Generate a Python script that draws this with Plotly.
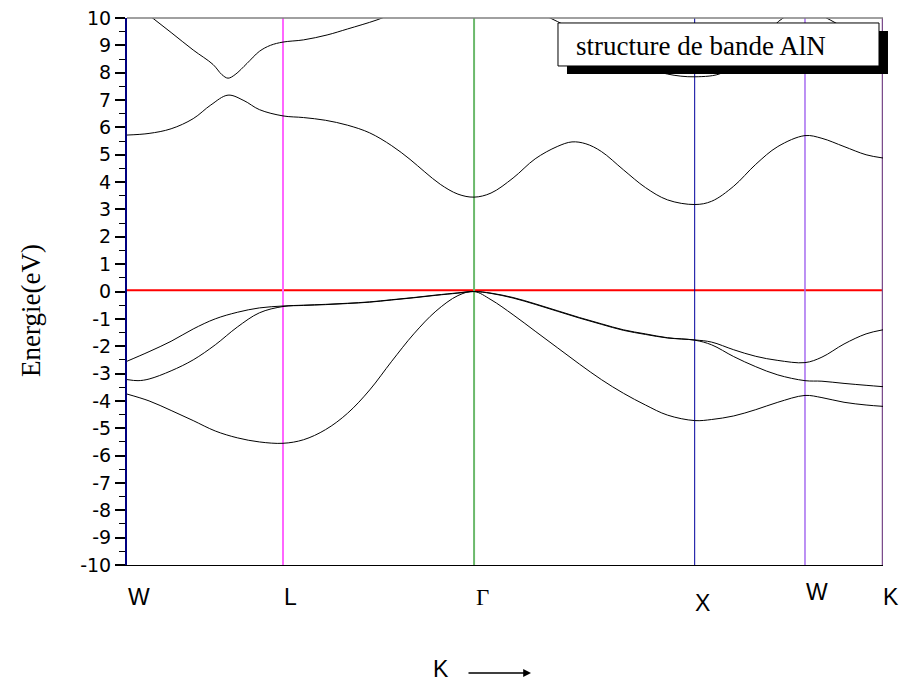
import plotly.graph_objects as go

# High-symmetry points along the path (distance in 2*pi/a units)
kpt_names = ["W", "L", "Γ", "X", "W", "K"]
kpt_pos = [0.0, 0.7071, 1.5731, 2.5731, 3.0731, 3.4267]
kpt_colors = ["#000080", "#ff66ff", "#6cb96c", "#00009c", "#a66cf0", "#7b4c8c"]

# Valence bands
v1_k = [0.0, 0.1, 0.2, 0.3, 0.4, 0.5, 0.6, 0.7071,
        0.8, 0.9, 1.0, 1.1, 1.2, 1.3, 1.4, 1.5, 1.5731,
        1.65, 1.75, 1.85, 1.95, 2.05, 2.15, 2.25, 2.35, 2.45, 2.5731,
        2.65, 2.75, 2.85, 2.95, 3.0731, 3.15, 3.25, 3.35, 3.4267]
v1_E = [-3.75, -4.0, -4.35, -4.72, -5.1, -5.35, -5.5, -5.55,
        -5.42, -5.05, -4.45, -3.6, -2.55, -1.55, -0.72, -0.15, 0.0,
        -0.3, -0.85, -1.45, -2.05, -2.65, -3.22, -3.72, -4.15, -4.52, -4.72,
        -4.68, -4.55, -4.32, -4.05, -3.8, -3.88, -4.05, -4.15, -4.2]

v2_k = [0.0, 0.1, 0.2, 0.3, 0.4, 0.5, 0.6, 0.7071,
        0.8, 0.9, 1.0, 1.1, 1.2, 1.3, 1.4, 1.5, 1.5731,
        1.65, 1.75, 1.85, 1.95, 2.05, 2.15, 2.25, 2.35, 2.45, 2.5731,
        2.65, 2.75, 2.85, 2.95, 3.0731, 3.15, 3.25, 3.35, 3.4267]
v2_E = [-2.55, -2.2, -1.82, -1.37, -1.0, -0.76, -0.6, -0.53,
        -0.5, -0.47, -0.43, -0.38, -0.3, -0.22, -0.13, -0.05, 0.0,
        -0.06, -0.22, -0.45, -0.7, -0.95, -1.18, -1.4, -1.55, -1.69, -1.77,
        -1.85, -2.13, -2.37, -2.52, -2.6, -2.4, -1.92, -1.55, -1.4]

v3_k = [0.0, 0.05, 0.1, 0.2, 0.3, 0.4, 0.5, 0.6, 0.7071,
        0.8, 0.9, 1.0, 1.1, 1.2, 1.3, 1.4, 1.5, 1.5731,
        1.65, 1.75, 1.85, 1.95, 2.05, 2.15, 2.25, 2.35, 2.45, 2.5731,
        2.65, 2.75, 2.85, 2.95, 3.0731, 3.15, 3.25, 3.35, 3.4267]
v3_E = [-3.22, -3.26, -3.2, -2.9, -2.5, -1.95, -1.3, -0.78, -0.55,
        -0.51, -0.48, -0.44, -0.39, -0.31, -0.23, -0.14, -0.06, 0.0,
        -0.07, -0.24, -0.47, -0.72, -0.97, -1.2, -1.42, -1.57, -1.7, -1.78,
        -1.95, -2.38, -2.75, -3.05, -3.26, -3.28, -3.36, -3.43, -3.48]

# Conduction bands
c1_k = [0.0, 0.1, 0.2, 0.3, 0.38, 0.458, 0.53, 0.6, 0.7071,
        0.8, 0.9, 1.0, 1.1, 1.2, 1.283, 1.35, 1.42, 1.5, 1.5731,
        1.65, 1.75, 1.85, 1.95, 2.017, 2.08, 2.15, 2.25, 2.35, 2.45, 2.5731,
        2.65, 2.75, 2.85, 2.95, 3.0731, 3.15, 3.25, 3.35, 3.4267]
c1_E = [5.72, 5.78, 5.95, 6.32, 6.82, 7.18, 6.98, 6.65, 6.42,
        6.36, 6.26, 6.08, 5.8, 5.33, 4.83, 4.37, 3.92, 3.56, 3.45,
        3.6, 4.15, 4.85, 5.3, 5.47, 5.4, 5.12, 4.45, 3.8, 3.35, 3.18,
        3.3, 3.85, 4.65, 5.3, 5.7, 5.6, 5.3, 5.0, 4.88]

c2_k = [0.0, 0.1, 0.2, 0.3, 0.39, 0.43, 0.458, 0.49, 0.544, 0.6, 0.65, 0.7071,
        0.8, 0.907, 1.0, 1.133, 1.25, 1.4, 1.5731,
        1.75, 1.918, 2.05, 2.2, 2.35, 2.45, 2.5731,
        2.7, 2.8, 2.9, 2.974, 3.0731, 3.187, 3.3, 3.4267]
c2_E = [10.75, 10.1, 9.47, 8.83, 8.3, 7.93, 7.8, 7.93, 8.34, 8.78, 9.0, 9.12,
        9.2, 9.38, 9.6, 9.93, 10.3, 10.7, 10.9,
        10.6, 10.0, 9.45, 8.75, 8.2, 7.95, 7.85,
        8.0, 8.7, 9.45, 10.0, 10.3, 9.93, 9.4, 9.0]

bands = [(v1_k, v1_E), (v2_k, v2_E), (v3_k, v3_E), (c1_k, c1_E), (c2_k, c2_E)]

y_ticks = list(range(-10, 11))
y_labels = [str(v) for v in y_ticks]

legend_text = "structure de bande AlN"
y_title = "Energie(eV)"
x_title = "K"

fig = go.Figure()
for kk, ee in bands:
    fig.add_trace(go.Scatter(x=kk, y=ee, mode="lines",
                             line=dict(color="black", width=1, shape="spline", smoothing=1.0),
                             showlegend=False, hoverinfo="skip"))

shapes = []
# Fermi level (red)
shapes.append(dict(type="line", xref="paper", yref="y", x0=0, x1=1, y0=0.05, y1=0.05,
                   line=dict(color="#ff0000", width=2), layer="below"))
# vertical high-symmetry lines
widths = [2, 2, 2, 1, 1.5, 2.5]
for p, c, w in zip(kpt_pos[1:], kpt_colors[1:], widths[1:]):
    shapes.append(dict(type="line", xref="x", yref="paper", x0=p, x1=p, y0=0, y1=1,
                       line=dict(color=c, width=w), layer="below"))
# top border
shapes.append(dict(type="line", xref="paper", yref="paper", x0=0, x1=1, y0=1, y1=1,
                   line=dict(color="#808080", width=1.5), layer="above"))
# legend box shadow and box
shapes.append(dict(type="rect", xref="paper", yref="paper", x0=0.582, x1=1.0066, y0=0.8976, y1=0.9762,
                   fillcolor="black", line=dict(width=0), layer="above"))
shapes.append(dict(type="rect", xref="paper", yref="paper", x0=0.5701, x1=0.9947, y0=0.9123, y1=0.9909,
                   fillcolor="white", line=dict(color="black", width=1), layer="above"))

annotations = []
annotations.append(dict(text=legend_text, xref="paper", yref="paper", x=0.5913, y=0.9488,
                        xanchor="left", yanchor="middle", showarrow=False,
                        font=dict(family="Liberation Serif", size=27, color="black")))
xshifts = [12, 7, 8, 8, 12, 8]
yshifts = [-32, -32, -32, -38, -27, -32]
for name, p, xs, ys in zip(kpt_names, kpt_pos, xshifts, yshifts):
    fam = "Liberation Serif" if name == "Γ" else "Liberation Sans"
    annotations.append(dict(text=name, xref="x", yref="paper", x=p, y=0, xshift=xs, yshift=ys,
                            xanchor="center", yanchor="middle", showarrow=False,
                            font=dict(family=fam, size=23, color="black")))
annotations.append(dict(text=x_title, xref="paper", yref="paper", x=(441 - 127) / 756, y=(565 - 669) / 547,
                        xanchor="center", yanchor="middle", showarrow=False,
                        font=dict(family="Liberation Sans", size=23, color="black")))
annotations.append(dict(text="", xref="paper", yref="paper", x=(531 - 127) / 756, y=(565 - 673) / 547,
                        ax=-64, ay=0, axref="pixel", ayref="pixel", showarrow=True,
                        arrowhead=2, arrowsize=1.2, arrowwidth=1.3, arrowcolor="black"))
annotations.append(dict(text=y_title, xref="paper", yref="paper", x=(31 - 127) / 756, y=(565 - 311) / 547,
                        xanchor="center", yanchor="middle", textangle=-90, showarrow=False,
                        font=dict(family="Liberation Serif", size=27, color="black")))

fig.update_layout(
    width=903, height=681,
    margin=dict(l=127, r=20, t=18, b=116, autoexpand=False),
    paper_bgcolor="white", plot_bgcolor="white",
    shapes=shapes, annotations=annotations,
    xaxis=dict(range=[kpt_pos[0], kpt_pos[-1]], showgrid=False, zeroline=False, automargin=False,
               showline=True, linecolor="black", linewidth=1, showticklabels=False, ticks=""),
    yaxis=dict(range=[-10, 10], showgrid=False, zeroline=False, automargin=False,
               showline=True, linecolor="#000080", linewidth=2,
               tickmode="array", tickvals=y_ticks, ticktext=y_labels,
               ticks="outside", ticklen=10, tickwidth=1.5, tickcolor="black",
               tickfont=dict(family="DejaVu Sans", size=19, color="black"),
               minor=dict(tickmode="linear", tick0=0, dtick=0.5, ticks="outside", ticklen=6,
                          tickwidth=1.2, tickcolor="black")),
)

fig.write_html("out.html")
